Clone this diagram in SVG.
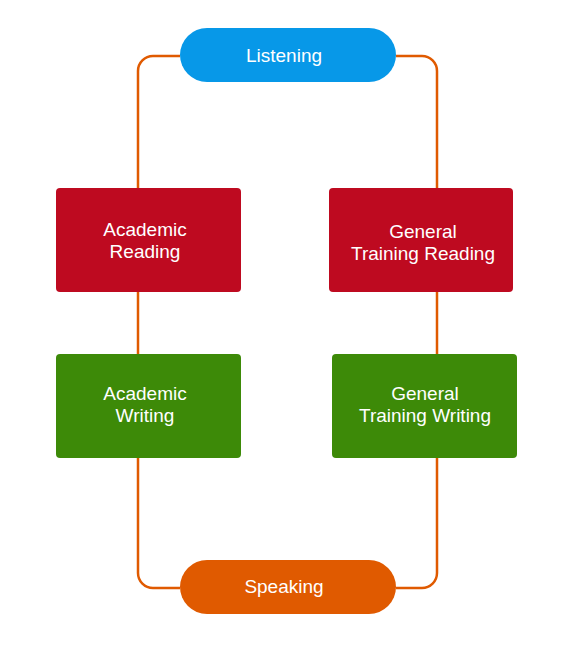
<svg xmlns="http://www.w3.org/2000/svg" width="573" height="661" viewBox="0 0 573 661">
<style>
.c{fill:none;stroke:#E05A00;stroke-width:2.5}
.t{font-family:"Liberation Sans",Arial,sans-serif;font-size:19px;fill:#fff;text-anchor:middle}
</style>
<rect width="573" height="661" fill="#fff"/>
<g id="connectors">
<path class="c" d="M180,56 H153 A15,15 0 0 0 138,71 V188"/>
<path class="c" d="M138,292 V354"/>
<path class="c" d="M138,458 V573 A15,15 0 0 0 153,588 H180"/>
<path class="c" d="M396,56 H422 A15,15 0 0 1 437,71 V188"/>
<path class="c" d="M437,292 V354"/>
<path class="c" d="M437,458 V573 A15,15 0 0 1 422,588 H396"/>
</g>
<g id="listening">
<rect x="180" y="28" width="216" height="54" rx="27" fill="#0798E8"/>
<text class="t" x="284" y="61.5">Listening</text>
</g>
<g id="academic-reading">
<rect x="56" y="188" width="185" height="104" rx="4" fill="#BE0A20"/>
<text class="t" x="145" y="235.5">Academic</text>
<text class="t" x="145" y="257.5">Reading</text>
</g>
<g id="general-training-reading">
<rect x="329" y="188" width="184" height="104" rx="4" fill="#BE0A20"/>
<text class="t" x="423" y="238">General</text>
<text class="t" x="423" y="260">Training Reading</text>
</g>
<g id="academic-writing">
<rect x="56" y="354" width="185" height="104" rx="4" fill="#3D8A08"/>
<text class="t" x="145" y="400">Academic</text>
<text class="t" x="145" y="422">Writing</text>
</g>
<g id="general-training-writing">
<rect x="332" y="354" width="185" height="104" rx="4" fill="#3D8A08"/>
<text class="t" x="425" y="400">General</text>
<text class="t" x="425" y="422">Training Writing</text>
</g>
<g id="speaking">
<rect x="180" y="560" width="216" height="54" rx="27" fill="#E05A00"/>
<text class="t" x="284" y="593">Speaking</text>
</g>
</svg>
